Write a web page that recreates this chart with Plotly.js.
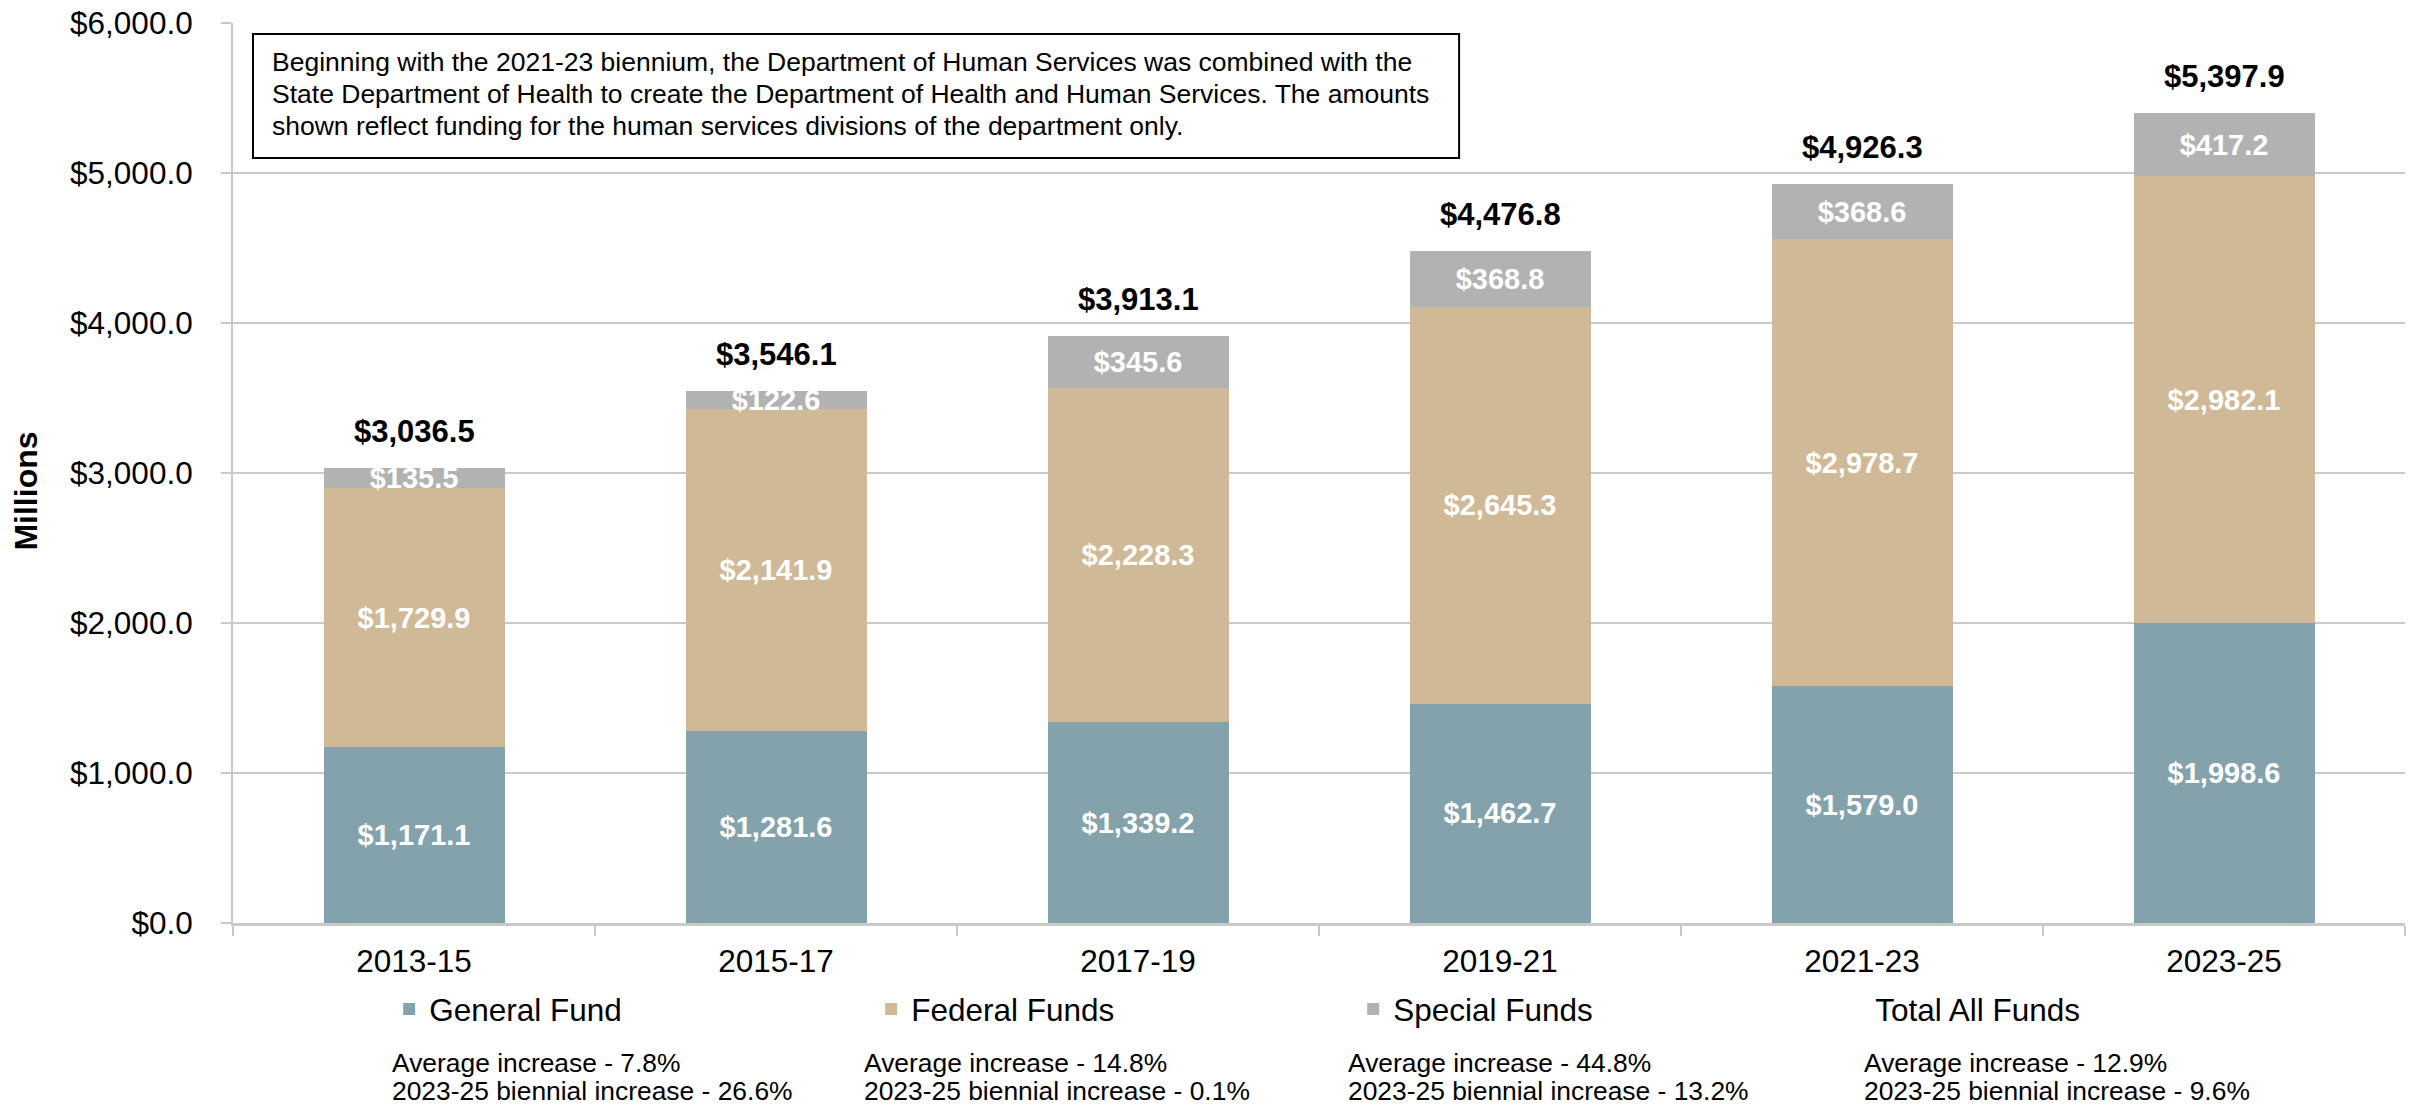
<!DOCTYPE html>
<html>
<head>
<meta charset="utf-8">
<script src="https://cdn.plot.ly/plotly-3.0.1.min.js"></script>
<style>html,body{margin:0;padding:0;background:#fff;}#chart{width:2417px;height:1107px;}</style>
</head>
<body>
<div id="chart"></div>
<script>
// ---- data ----
const bienniums = ['2013-15', '2015-17', '2017-19', '2019-21', '2021-23', '2023-25'];
const generalFund = [1171.1, 1281.6, 1339.2, 1462.7, 1579.0, 1998.6];
const federalFunds = [1729.9, 2141.9, 2228.3, 2645.3, 2978.7, 2982.1];
const specialFunds = [135.5, 122.6, 345.6, 368.8, 368.6, 417.2];
const totalAllFunds = [3036.5, 3546.1, 3913.1, 4476.8, 4926.3, 5397.9];
const seriesNames = ['General Fund', 'Federal Funds', 'Special Funds', 'Total All Funds'];
const avgIncrease = ['7.8%', '14.8%', '44.8%', '12.9%'];
const biennialIncrease = ['26.6%', '0.1%', '13.2%', '9.6%'];
const noteLines = [
  'Beginning with the 2021-23 biennium, the Department of Human Services was combined with the',
  'State Department of Health to create the Department of Health and Human Services. The amounts',
  'shown reflect funding for the human services divisions of the department only.'
];

// ---- styling ----
const FONT = 'Liberation Sans, Arial, Helvetica, sans-serif';
const colors = ['#84A2AB', '#CFB997', '#B2B2B2'];
const gridColor = '#C9C9C9';

function barTrace(name, vals, color) {
  return {
    type: 'bar', name: name, x: bienniums, y: vals,
    marker: {color: color},
    texttemplate: '$%{y:,.1f}',
    textposition: 'inside', insidetextanchor: 'middle',
    textangle: 0, constraintext: 'none', cliponaxis: false,
    textfont: {family: FONT, size: 29, color: '#FFFFFF', weight: 'bold'},
    hoverinfo: 'skip'
  };
}

const traces = [
  barTrace(seriesNames[0], generalFund, colors[0]),
  barTrace(seriesNames[1], federalFunds, colors[1]),
  barTrace(seriesNames[2], specialFunds, colors[2]),
  {
    type: 'scatter', mode: 'lines', name: seriesNames[3],
    x: bienniums, y: totalAllFunds,
    line: {width: 0, color: 'rgba(0,0,0,0)'}, hoverinfo: 'skip'
  }
];

const fmt = v => '$' + v.toLocaleString('en-US', {minimumFractionDigits: 1, maximumFractionDigits: 1});

const annotations = [];
bienniums.forEach((b, i) => {
  annotations.push({
    x: b, y: totalAllFunds[i], xref: 'x', yref: 'y',
    text: fmt(totalAllFunds[i]), showarrow: false,
    yanchor: 'bottom', yshift: 17,
    font: {family: FONT, size: 31, color: '#000', weight: 'bold'}
  });
});
// note text, one annotation per line
const noteY = [0.9567, 0.9211, 0.8861];
noteLines.forEach((t, i) => {
  annotations.push({
    xref: 'paper', yref: 'paper', x: 0.0175, y: noteY[i], xanchor: 'left', yanchor: 'middle',
    text: t, showarrow: false, align: 'left', borderpad: 0,
    font: {family: FONT, size: 26.5, color: '#000'}
  });
});
// y-axis title
annotations.push({
  xref: 'paper', yref: 'paper', x: -0.0955, y: 0.48, xanchor: 'center', yanchor: 'middle',
  text: 'Millions', textangle: -90, showarrow: false,
  font: {family: FONT, size: 32, color: '#000', weight: 'bold'}
});
// footnotes
const footX = [0.0726, 0.2901, 0.5129, 0.7505];
avgIncrease.forEach((v, i) => {
  annotations.push({
    xref: 'paper', yref: 'paper', x: footX[i], y: -0.1555, xanchor: 'left', yanchor: 'middle',
    text: 'Average increase - ' + v, showarrow: false, borderpad: 0,
    font: {family: FONT, size: 26.4, color: '#000'}
  });
  annotations.push({
    xref: 'paper', yref: 'paper', x: footX[i], y: -0.1867, xanchor: 'left', yanchor: 'middle',
    text: '2023-25 biennial increase - ' + biennialIncrease[i], showarrow: false, borderpad: 0,
    font: {family: FONT, size: 26.4, color: '#000'}
  });
});

const layout = {
  width: 2417, height: 1107,
  margin: {l: 233, r: 12, t: 23, b: 184},
  paper_bgcolor: '#FFFFFF', plot_bgcolor: '#FFFFFF',
  font: {family: FONT, color: '#000'},
  barmode: 'stack', bargap: 0.5,
  showlegend: true,
  legend: {
    orientation: 'h', x: 0.0719, xanchor: 'left', y: -0.0956, yanchor: 'middle',
    traceorder: 'normal', entrywidth: 437, entrywidthmode: 'pixels',
    font: {family: FONT, size: 31.5, color: '#000'}, bgcolor: 'rgba(0,0,0,0)'
  },
  xaxis: {
    type: 'category', tickson: 'boundaries', ticks: 'outside', ticklen: 10, tickwidth: 2,
    tickcolor: gridColor, showline: true, linecolor: gridColor, linewidth: 3,
    showgrid: false, ticklabelstandoff: 8,
    tickfont: {family: FONT, size: 31.5, color: '#000'}
  },
  yaxis: {
    range: [0, 6000], dtick: 1000, tick0: 0, tickprefix: '$', tickformat: ',.1f',
    ticks: 'outside', ticklen: 10, tickwidth: 2, tickcolor: gridColor,
    showline: true, linecolor: gridColor, linewidth: 2,
    showgrid: true, gridcolor: gridColor, gridwidth: 2, zeroline: false,
    ticklabelstandoff: 22,
    tickfont: {family: FONT, size: 31.5, color: '#000'}
  },
  shapes: [{
    type: 'rect', xref: 'paper', yref: 'paper', x0: 0.0092, x1: 0.5645, y0: 0.85, y1: 0.9878,
    line: {color: '#000', width: 2}, fillcolor: '#FFFFFF', layer: 'above'
  }],
  annotations: annotations
};

Plotly.newPlot('chart', traces, layout, {staticPlot: true, displayModeBar: false});
</script>
</body>
</html>
